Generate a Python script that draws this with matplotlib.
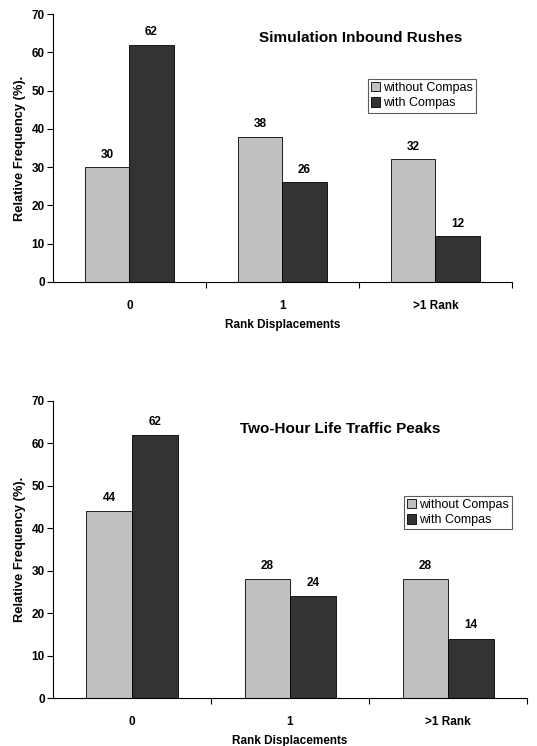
import numpy as np
import matplotlib
matplotlib.use('Agg')
import matplotlib.pyplot as plt

plt.rcParams['font.family'] = ['Liberation Sans', 'DejaVu Sans']

categories = ['0', '1', '>1 Rank']
series_names = ['without Compas', 'with Compas']

inbound_without = [30, 38, 32]
inbound_with = [62, 26, 12]

peaks_without = [44, 28, 28]
peaks_with = [62, 24, 14]

titles = ['Simulation Inbound Rushes', 'Two-Hour Life Traffic Peaks']

light = '#c0c0c0'
dark = '#333333'

fig = plt.figure(figsize=(5.37, 7.46), dpi=100)
ax1 = fig.add_axes([0.0987, 0.622, 0.8547, 0.3592])
ax2 = fig.add_axes([0.0987, 0.0643, 0.8827, 0.3982])


def draw_panel(ax, without, with_, title, title_xy, legend_anchor):
    x = np.arange(len(categories))
    w = 0.288
    b1 = ax.bar(x - w / 2, without, w, color=light, edgecolor='black', linewidth=0.6,
                label=series_names[0])
    b2 = ax.bar(x + w / 2, with_, w, color=dark, edgecolor='black', linewidth=0.6,
                label=series_names[1])
    for bars, vals in ((b1, without), (b2, with_)):
        for rect, v in zip(bars, vals):
            ax.text(rect.get_x() + rect.get_width() / 2, v + 1.7, str(v),
                    ha='center', va='bottom', fontsize=8.5, fontweight='bold')

    ax.set_xlim(-0.5, 2.5)
    ax.set_ylim(0, 70)
    ax.set_yticks(range(0, 71, 10))
    ax.set_xticks(x)
    ax.set_xticklabels(categories)
    ax.set_xticks([0.5, 1.5, 2.5], minor=True)
    ax.tick_params(axis='x', which='major', length=0, pad=13, labelsize=8.5)
    ax.tick_params(axis='x', which='minor', length=4, width=0.8, direction='out')
    ax.tick_params(axis='y', length=4, width=0.8, direction='out', labelsize=8.5, pad=2)
    for lab in ax.get_xticklabels() + ax.get_yticklabels():
        lab.set_fontweight('bold')

    for s in ('top', 'right'):
        ax.spines[s].set_visible(False)
    for s in ('left', 'bottom'):
        ax.spines[s].set_linewidth(0.8)

    ax.set_ylabel('Relative Frequency (%).', fontsize=9.3, fontweight='bold', labelpad=4)
    ax.set_xlabel('Rank Displacements', fontsize=8.5, fontweight='bold', labelpad=5)
    ax.text(title_xy[0], title_xy[1], title, transform=ax.transAxes,
            ha='center', va='center', fontsize=11, fontweight='bold')

    leg = ax.legend(loc='upper left', bbox_to_anchor=legend_anchor,
                    fontsize=9, frameon=True, fancybox=False, borderpad=0.25,
                    handlelength=0.75, handleheight=0.75, handletextpad=0.2,
                    labelspacing=0.25, borderaxespad=0)
    leg.get_frame().set_edgecolor('#333333')
    leg.get_frame().set_linewidth(0.8)


draw_panel(ax1, inbound_without, inbound_with, titles[0],
           (0.671, 0.910), (0.686, 0.757))
draw_panel(ax2, peaks_without, peaks_with, titles[1],
           (0.605, 0.906), (0.74, 0.68))

fig.savefig('out.png', dpi=100)
